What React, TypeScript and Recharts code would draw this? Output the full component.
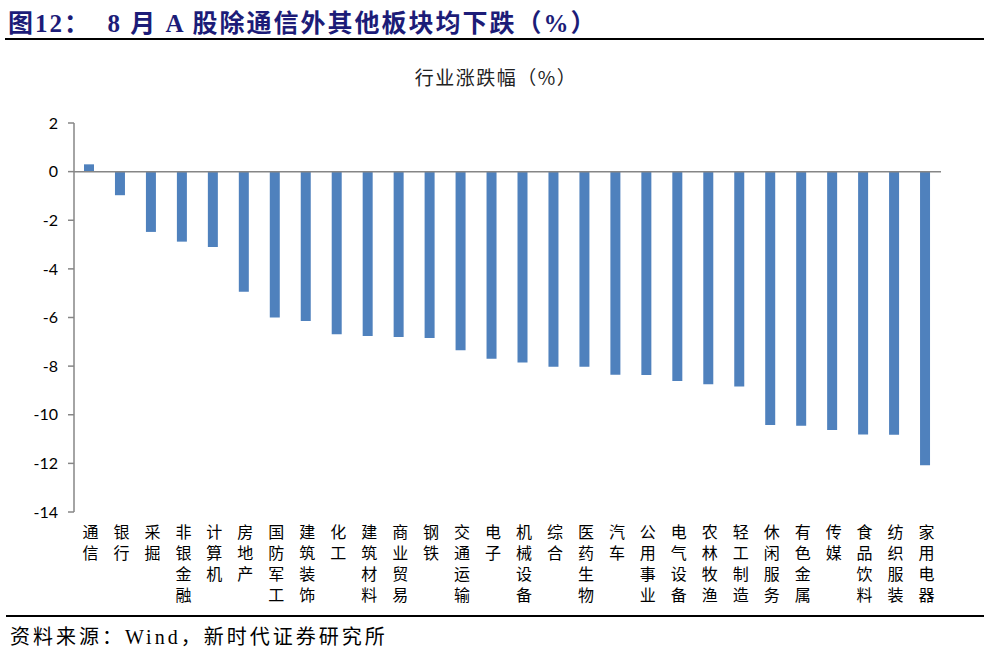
import React from "react";
import { BarChart, Bar, XAxis, YAxis, ReferenceLine } from "recharts";

const industries = [
  "通信", "银行", "采掘", "非银金融", "计算机", "房地产", "国防军工",
  "建筑装饰", "化工", "建筑材料", "商业贸易", "钢铁", "交通运输", "电子",
  "机械设备", "综合", "医药生物", "汽车", "公用事业", "电气设备", "农林牧渔",
  "轻工制造", "休闲服务", "有色金属", "传媒", "食品饮料", "纺织服装", "家用电器",
];

const changes = [
  0.3, -0.97, -2.48, -2.88, -3.1, -4.94, -6.0,
  -6.14, -6.69, -6.76, -6.8, -6.84, -7.35, -7.7,
  -7.85, -8.03, -8.03, -8.35, -8.36, -8.61, -8.75,
  -8.84, -10.42, -10.45, -10.63, -10.81, -10.82, -12.08,
];

const yTicks = [2, 0, -2, -4, -6, -8, -10, -12, -14];

const chartData = industries.map((name, i) => ({ name, value: changes[i] }));

const cjk = '"Noto Sans CJK SC", sans-serif';
const serif = '"Liberation Serif", "Noto Sans CJK SC", serif';

// category names run top to bottom, characters upright
function VerticalTick(props: any) {
  const { x, payload } = props;
  return (
    <text
      x={x + 1}
      y={524}
      fontSize={16}
      fill="#000"
      fontFamily={cjk}
      letterSpacing={5}
      style={{ writingMode: "vertical-rl" }}
    >
      {payload.value}
    </text>
  );
}

export default function App() {
  return (
    <div
      style={{
        position: "absolute",
        left: 0,
        top: 0,
        width: 984,
        height: 655,
        background: "#fff",
        overflow: "hidden",
      }}
    >
      <div
        style={{
          position: "absolute",
          left: 8,
          top: 3,
          fontFamily: serif,
          fontWeight: "bold",
          fontSize: 25,
          letterSpacing: 2,
          color: "#1c1c78",
          whiteSpace: "pre",
        }}
      >
        图12：  8 月 A 股除通信外其他板块均下跌（%）
      </div>
      <div style={{ position: "absolute", left: 5, top: 38, width: 979, height: 2, background: "#000" }} />

      <div
        style={{
          position: "absolute",
          left: 0,
          width: 984,
          top: 63,
          textAlign: "center",
          fontFamily: cjk,
          fontSize: 19,
          letterSpacing: 1.5,
          color: "#222",
        }}
      >
        <span style={{ position: "relative", left: 4 }}>行业涨跌幅（%）</span>
      </div>

      <div style={{ position: "absolute", left: 0, top: 0 }}>
        <BarChart
          width={984}
          height={620}
          data={chartData}
          margin={{ top: 123, right: 43, bottom: 0, left: 0 }}
        >
          <XAxis
            dataKey="name"
            interval={0}
            height={108}
            axisLine={false}
            tickLine={false}
            tick={<VerticalTick />}
          />
          <YAxis
            width={74}
            domain={[-14, 2]}
            ticks={yTicks}
            interval={0}
            stroke="#868686"
            strokeWidth={1.5}
            tickSize={6}
            tickMargin={10}
            tick={{ fill: "#000", fontSize: 16, fontFamily: "Lato, sans-serif" }}
          />
          <ReferenceLine y={0} stroke="#868686" strokeWidth={1.5} />
          <Bar dataKey="value" fill="#4f81bd" barSize={10} isAnimationActive={false} />
        </BarChart>
      </div>

      <div style={{ position: "absolute", left: 6, top: 615, width: 978, height: 2, background: "#000" }} />
      <div
        style={{
          position: "absolute",
          left: 10,
          top: 621,
          fontFamily: serif,
          fontSize: 20,
          letterSpacing: 3,
          color: "#000",
          whiteSpace: "pre",
        }}
      >
        资料来源：Wind，新时代证券研究所
      </div>
    </div>
  );
}
